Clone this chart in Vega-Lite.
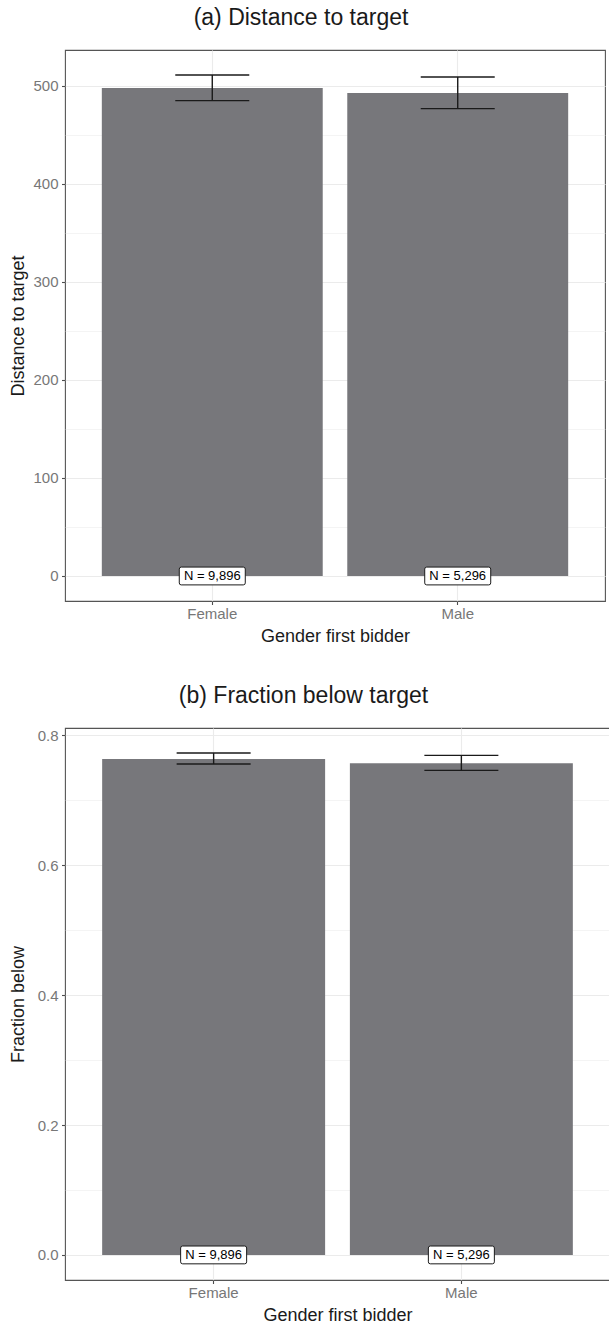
{
  "$schema": "https://vega.github.io/schema/vega-lite/v6.json",
  "padding": {"left": 8, "top": 6, "right": 0, "bottom": 0},
  "background": "white",
  "spacing": 38,
  "config": {
    "font": "Liberation Sans",
    "view": {"stroke": "#555555", "strokeWidth": 1.1},
    "axis": {
      "labelFont": "Liberation Sans",
      "labelFontSize": 15,
      "labelColor": "#777777",
      "titleFont": "Liberation Sans",
      "titleFontSize": 18,
      "titleFontWeight": "normal",
      "titleColor": "#1a1a1a",
      "tickColor": "#4d4d4d",
      "tickSize": 3.5,
      "tickWidth": 1.1,
      "domain": false,
      "gridColor": "#ebebeb",
      "gridWidth": 1.1
    },
    "title": {"font": "Liberation Sans", "fontSize": 23, "fontWeight": "normal", "color": "#1a1a1a", "baseline": "alphabetic"}
  },
  "datasets": {
    "distance": [
      {"gender": "Female", "mean": 497.7, "lo": 484.8, "hi": 510.9, "n_label": "N = 9,896"},
      {"gender": "Male", "mean": 492.6, "lo": 476.6, "hi": 508.8, "n_label": "N = 5,296"}
    ],
    "fraction": [
      {"gender": "Female", "mean": 0.7636, "lo": 0.7559, "hi": 0.7728, "n_label": "N = 9,896"},
      {"gender": "Male", "mean": 0.757, "lo": 0.7462, "hi": 0.7693, "n_label": "N = 5,296"}
    ]
  },
  "vconcat": [
    {
      "width": 540,
      "height": 551,
      "title": {"text": "(a) Distance to target", "dx": -34, "offset": 20},
      "data": {"name": "distance"},
      "encoding": {
        "x": {
          "field": "gender",
          "type": "nominal",
          "sort": ["Female", "Male"],
          "scale": {"paddingInner": 0.1, "paddingOuter": 0.15},
          "axis": {"title": "Gender first bidder", "labelAngle": 0, "grid": true, "bandPosition": 0.5, "labelPadding": 1.5, "titlePadding": 6}
        }
      },
      "layer": [
        {
          "mark": {"type": "bar", "color": "#77777b"},
          "encoding": {
            "y": {
              "field": "mean",
              "type": "quantitative",
              "scale": {"domain": [-25.5, 536.4], "nice": false, "zero": false},
              "axis": {"orient": "left", "values": [50, 150, 250, 350, 450], "grid": true, "gridWidth": 0.55, "labels": false, "ticks": false, "title": null}
            }
          }
        },
        {
          "mark": {"type": "rule", "color": "#1a1a1a", "strokeWidth": 1.4},
          "encoding": {
            "y": {
              "field": "lo",
              "type": "quantitative",
              "axis": {"orient": "left", "title": "Distance to target", "values": [0, 100, 200, 300, 400, 500], "grid": true, "labelPadding": 3.5, "minExtent": 32, "maxExtent": 32, "titlePadding": 6}
            },
            "y2": {"field": "hi"}
          }
        },
        {
          "mark": {"type": "tick", "size": 74, "thickness": 1.4, "color": "#1a1a1a", "opacity": 1},
          "encoding": {"y": {"field": "lo", "type": "quantitative", "axis": null}}
        },
        {
          "mark": {"type": "tick", "size": 74, "thickness": 1.4, "color": "#1a1a1a", "opacity": 1},
          "encoding": {"y": {"field": "hi", "type": "quantitative", "axis": null}}
        },
        {
          "mark": {
            "type": "point",
            "shape": "M-0.94,-0.27H0.94Q1,-0.27 1,-0.21V0.21Q1,0.27 0.94,0.27H-0.94Q-1,0.27 -1,0.21V-0.21Q-1,-0.27 -0.94,-0.27Z",
            "size": 4356,
            "filled": true,
            "fill": "white",
            "stroke": "#1a1a1a",
            "strokeWidth": 1,
            "opacity": 1
          },
          "encoding": {"y": {"datum": 0, "type": "quantitative", "axis": null}}
        },
        {
          "mark": {"type": "text", "fontSize": 13, "color": "#000000", "baseline": "middle", "align": "center"},
          "encoding": {
            "y": {"datum": 0, "type": "quantitative", "axis": null},
            "text": {"field": "n_label"}
          }
        }
      ],
      "resolve": {"axis": {"y": "independent"}}
    },
    {
      "width": 545,
      "height": 552,
      "title": {"text": "(b) Fraction below target", "dx": -34, "offset": 20},
      "data": {"name": "fraction"},
      "encoding": {
        "x": {
          "field": "gender",
          "type": "nominal",
          "sort": ["Female", "Male"],
          "scale": {"paddingInner": 0.1, "paddingOuter": 0.15},
          "axis": {"title": "Gender first bidder", "labelAngle": 0, "grid": true, "bandPosition": 0.5, "labelPadding": 1.5, "titlePadding": 6}
        }
      },
      "layer": [
        {
          "mark": {"type": "bar", "color": "#77777b"},
          "encoding": {
            "y": {
              "field": "mean",
              "type": "quantitative",
              "scale": {"domain": [-0.0386, 0.8114], "nice": false, "zero": false},
              "axis": {"orient": "left", "values": [0.1, 0.3, 0.5, 0.7], "grid": true, "gridWidth": 0.55, "labels": false, "ticks": false, "title": null}
            }
          }
        },
        {
          "mark": {"type": "rule", "color": "#1a1a1a", "strokeWidth": 1.4},
          "encoding": {
            "y": {
              "field": "lo",
              "type": "quantitative",
              "axis": {"orient": "left", "title": "Fraction below", "values": [0, 0.2, 0.4, 0.6, 0.8], "format": ".1f", "grid": true, "labelPadding": 3.5, "minExtent": 32, "maxExtent": 32, "titlePadding": 6}
            },
            "y2": {"field": "hi"}
          }
        },
        {
          "mark": {"type": "tick", "size": 74, "thickness": 1.4, "color": "#1a1a1a", "opacity": 1},
          "encoding": {"y": {"field": "lo", "type": "quantitative", "axis": null}}
        },
        {
          "mark": {"type": "tick", "size": 74, "thickness": 1.4, "color": "#1a1a1a", "opacity": 1},
          "encoding": {"y": {"field": "hi", "type": "quantitative", "axis": null}}
        },
        {
          "mark": {
            "type": "point",
            "shape": "M-0.94,-0.27H0.94Q1,-0.27 1,-0.21V0.21Q1,0.27 0.94,0.27H-0.94Q-1,0.27 -1,0.21V-0.21Q-1,-0.27 -0.94,-0.27Z",
            "size": 4356,
            "filled": true,
            "fill": "white",
            "stroke": "#1a1a1a",
            "strokeWidth": 1,
            "opacity": 1
          },
          "encoding": {"y": {"datum": 0, "type": "quantitative", "axis": null}}
        },
        {
          "mark": {"type": "text", "fontSize": 13, "color": "#000000", "baseline": "middle", "align": "center"},
          "encoding": {
            "y": {"datum": 0, "type": "quantitative", "axis": null},
            "text": {"field": "n_label"}
          }
        }
      ],
      "resolve": {"axis": {"y": "independent"}}
    }
  ]
}
